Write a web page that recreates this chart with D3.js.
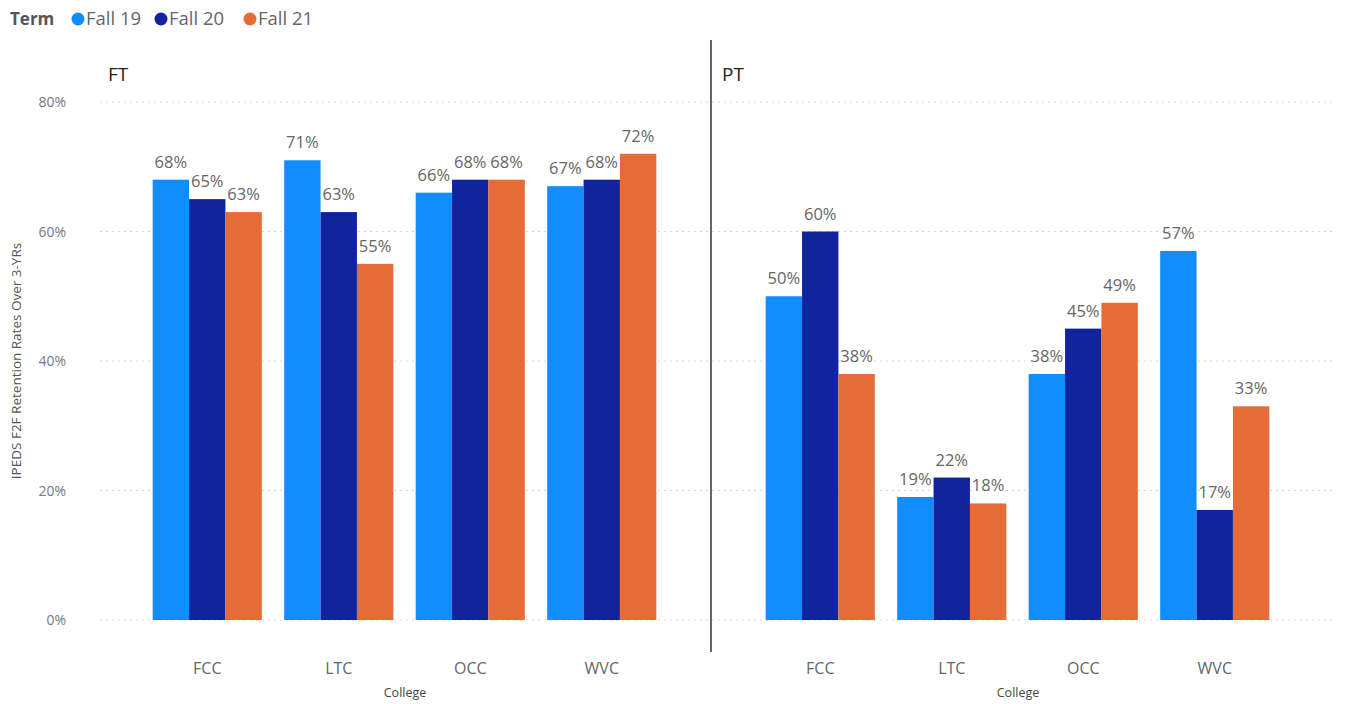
<!DOCTYPE html>
<html><head><meta charset="utf-8">
<script src="https://cdn.jsdelivr.net/npm/d3@7"></script>
<style>body{margin:0;background:#fff;} svg{display:block;} text{font-family:"Open Sans","Noto Sans",sans-serif;}</style>
</head><body>
<svg id="c" width="1347" height="704"></svg>
<script>
const colleges = ["FCC","LTC","OCC","WVC"];
const terms = ["Fall 19","Fall 20","Fall 21"];
const colors = ["#118DFF","#12239E","#E66C37"];
const ftValues = [[68,65,63],[71,63,55],[66,68,68],[67,68,72]];
const ptValues = [[50,60,38],[19,22,18],[38,45,49],[57,17,33]];
const yTicks = [0,20,40,60,80];
const panels = [
  {name:"FT", values: ftValues, range:[141.5,667.5], titleX:108, axisX:405},
  {name:"PT", values: ptValues, range:[754.5,1280.5], titleX:722, axisX:1018}
];

const svg = d3.select("#c");
const y = d3.scaleLinear().domain([0,80]).range([620,102]);

// grid
svg.append("g").selectAll("line").data(yTicks).join("line")
  .attr("x1",100).attr("x2",1332)
  .attr("y1",d=>y(d)).attr("y2",d=>y(d))
  .attr("stroke","#d6d6d6").attr("stroke-width",1).attr("stroke-dasharray","2,4");

// y axis labels
svg.append("g").selectAll("text").data(yTicks).join("text")
  .attr("x",66).attr("y",d=>y(d)+5).attr("text-anchor","end")
  .attr("font-size",14).attr("fill","#777").text(d=>d+"%");

svg.append("text").attr("transform","translate(21,361) rotate(-90)")
  .attr("text-anchor","middle").attr("font-size",13.5).attr("fill","#555")
  .text("IPEDS F2F Retention Rates Over 3-YRs");

// divider
svg.append("line").attr("x1",711).attr("x2",711).attr("y1",40).attr("y2",652)
  .attr("stroke","#666").attr("stroke-width",2);

panels.forEach(p=>{
  const x0 = d3.scaleBand().domain(colleges).range(p.range).paddingInner(0.17).paddingOuter(0.085);
  const x1 = d3.scaleBand().domain(terms).range([0,x0.bandwidth()]);
  const g = svg.append("g");
  g.append("text").attr("x",p.titleX).attr("y",81).attr("font-size",19).attr("fill","#222").text(p.name);
  const grp = g.selectAll("g.grp").data(colleges).join("g")
    .attr("transform",d=>`translate(${x0(d)},0)`);
  grp.each(function(c,ci){
    const gg = d3.select(this);
    const vals = p.values[ci];
    gg.selectAll("rect").data(vals).join("rect")
      .attr("x",(v,i)=>x1(terms[i])).attr("width",x1.bandwidth())
      .attr("y",v=>y(v)).attr("height",v=>y(0)-y(v))
      .attr("fill",(v,i)=>colors[i]);
    gg.selectAll("text").data(vals).join("text")
      .attr("x",(v,i)=>x1(terms[i])+x1.bandwidth()/2)
      .attr("y",v=>y(v)-12).attr("text-anchor","middle")
      .attr("font-size",16.5).attr("fill","#666")
      .text(v=>v+"%");
  });
  const xa = g.append("g").attr("transform","translate(0,640)")
    .call(d3.axisBottom(x0).tickSize(0).tickPadding(0));
  xa.select(".domain").remove();
  xa.selectAll("text").attr("dy",0).attr("y",34).attr("font-size",16).attr("fill","#666")
    .attr("font-family","'Open Sans','Noto Sans',sans-serif");
  g.append("text").attr("x",p.axisX).attr("y",697).attr("text-anchor","middle")
    .attr("font-size",12.5).attr("fill","#444").text("College");
});

// legend
const lg = svg.append("g");
lg.append("text").attr("x",10).attr("y",25).attr("font-size",17).attr("font-weight","bold").attr("fill","#555").text("Term");
const lx = [78,161,250];
terms.forEach((t,i)=>{
  lg.append("circle").attr("cx",lx[i]).attr("cy",19).attr("r",6.5).attr("fill",colors[i]);
  lg.append("text").attr("x",lx[i]+8).attr("y",25).attr("font-size",18.5).attr("fill","#666").text(t);
});
</script>
</body></html>
